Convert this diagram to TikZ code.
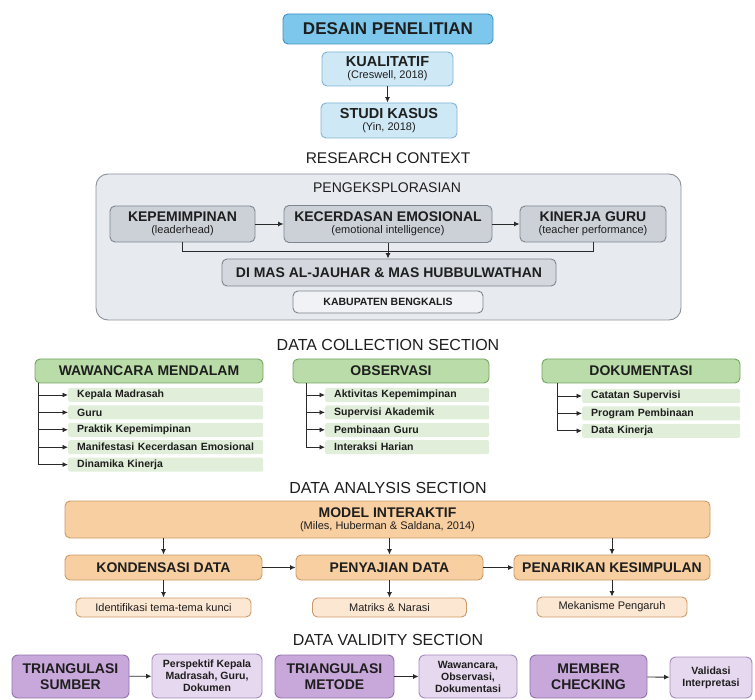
\documentclass[tikz,border=0pt]{standalone}
\usepackage{fontspec}
\setmainfont{Liberation Sans}
\usetikzlibrary{positioning,arrows.meta}

\definecolor{txt}{HTML}{1E1E1E}
\definecolor{arrowc}{HTML}{2A2A2A}
\definecolor{bluedark}{HTML}{7CC7EB}
\definecolor{blueline}{HTML}{3F92C2}
\definecolor{bluelight}{HTML}{CFE8F5}
\definecolor{bluemid}{HTML}{7DB3D6}
\definecolor{ctxfill}{HTML}{E7EAEF}
\definecolor{ctxline}{HTML}{8C939B}
\definecolor{greymid}{HTML}{CCD1D8}
\definecolor{greyline}{HTML}{7E858E}
\definecolor{greydimas}{HTML}{D4D8DE}
\definecolor{greylight}{HTML}{F0F2F5}
\definecolor{greenhead}{HTML}{B9DCA8}
\definecolor{greenline}{HTML}{74A660}
\definecolor{greenitem}{HTML}{E1EFDA}
\definecolor{orangemid}{HTML}{F8CFA1}
\definecolor{orangeline}{HTML}{CD9966}
\definecolor{orangelight}{HTML}{FCE7D3}
\definecolor{purplemid}{HTML}{C8A8DA}
\definecolor{purpleline}{HTML}{9372AC}
\definecolor{purplelight}{HTML}{E6D8EF}
\definecolor{purplepale}{HTML}{A68ABD}

\newcommand\subline[1]{{\fontsize{11}{12}\selectfont\mdseries #1}}

\begin{document}
\begin{tikzpicture}[x=1pt,y=-1pt,
        every node/.style={text=txt},
        box/.style={draw, rounded corners=5pt, line width=0.9pt, align=center, inner sep=0pt,
            font=\bfseries\fontsize{14}{15}\selectfont},
        blueone/.style={box, fill=bluedark, draw=blueline, font=\bfseries\fontsize{17}{18}\selectfont},
        bluetwo/.style={box, fill=bluelight, draw=bluemid, font=\bfseries\fontsize{14.5}{15}\selectfont},
        greyone/.style={box, fill=greymid, draw=greyline},
        greenone/.style={box, fill=greenhead, draw=greenline},
        item/.style={fill=greenitem, rounded corners=2pt, minimum height=14pt, inner sep=0pt, inner xsep=9pt,
            anchor=west, align=left, font=\bfseries\fontsize{10.5}{12}\selectfont},
        orangeone/.style={box, fill=orangemid, draw=orangeline},
        orangetwo/.style={box, fill=orangelight, draw=orangeline, font=\mdseries\fontsize{11}{12}\selectfont},
        purpleone/.style={box, rounded corners=6pt, fill=purplemid, draw=purpleline, font=\bfseries\fontsize{14}{16}\selectfont},
        purpletwo/.style={box, rounded corners=6pt, fill=purplelight, draw=purplepale, font=\bfseries\fontsize{10.5}{12}\selectfont},
        heading/.style={font=\fontsize{16}{18}\selectfont},
        link/.style={->, >={Latex[length=5.5pt,width=5pt]}, line width=0.9pt, draw=arrowc},
        conn/.style={line width=0.9pt, draw=arrowc}
    ]
    \useasboundingbox (0,0) rectangle (755,700);

    % research design
    \node[blueone, minimum width=210pt, minimum height=30pt] (desain) at (388,29) {DESAIN PENELITIAN};
    \node[bluetwo, minimum width=131pt, minimum height=34pt] (kual) at (387.5,69) {KUALITATIF\\[-3pt]\subline{(Creswell, 2018)}};
    \node[bluetwo, minimum width=136pt, minimum height=35pt] (studi) at (389,120.5) {STUDI KASUS\\[-3pt]\subline{(Yin, 2018)}};
    \draw[link] (kual.south) -- (kual.south |- studi.north);

    % research context
    \node[heading, font=\fontsize{15.5}{18}\selectfont] (rc) at (388,158) {RESEARCH CONTEXT};
    \draw[fill=ctxfill, draw=ctxline, line width=0.9pt, rounded corners=12pt] (96,174) rectangle (681,320);
    \node[font=\fontsize{14}{16}\selectfont] (penge) at (387,188) {PENGEKSPLORASIAN};
    \node[greyone, minimum width=145pt, minimum height=36pt] (kep) at (182.5,224) {KEPEMIMPINAN\\[-3pt]\subline{(leaderhead)}};
    \node[greyone, minimum width=208pt, minimum height=37pt] (kec) at (388,224) {KECERDASAN EMOSIONAL\\[-3pt]\subline{(emotional intelligence)}};
    \node[greyone, minimum width=146pt, minimum height=36pt] (kin) at (593,224) {KINERJA GURU\\[-3pt]\subline{(teacher performance)}};
    \node[greyone, fill=greydimas, minimum width=334pt, minimum height=27pt] (dimas) at (389,272.5) {DI MAS AL-JAUHAR \& MAS HUBBULWATHAN};
    \node[greyone, fill=greylight, minimum width=190pt, minimum height=22pt,
        font=\bfseries\fontsize{10.5}{12}\selectfont] (kab) at (388,302) {KABUPATEN BENGKALIS};
    \draw[link] (kep) -- (kec);
    \draw[link] (kec) -- (kin);
    \draw[conn] (kep.south) -- ++(0,9) -| (kin.south);
    \draw[link] (kec.south) -- (kec.south |- dimas.north);

    % data collection
    \node[heading] (dc) at (388,345) {DATA COLLECTION SECTION};
    \node[greenone, minimum width=228pt, minimum height=24pt] (waw) at (149,371) {WAWANCARA MENDALAM};
    \node[greenone, minimum width=196pt, minimum height=24pt] (obs) at (391,371) {OBSERVASI};
    \node[greenone, minimum width=198pt, minimum height=24pt] (dok) at (641,371) {DOKUMENTASI};

    \node[item, text width=177pt] (w1) at (68,395) {Kepala Madrasah};
    \node[item, text width=177pt, below=3pt of w1] (w2) {Guru};
    \node[item, text width=177pt, below=3pt of w2] (w3) {Praktik Kepemimpinan};
    \node[item, text width=177pt, below=3pt of w3] (w4) {Manifestasi Kecerdasan Emosional};
    \node[item, text width=177pt, below=3pt of w4] (w5) {Dinamika Kinerja};
    \draw[link] ([xshift=4pt]waw.south west) |- (w1.west);
    \draw[link] ([xshift=4pt]waw.south west) |- (w2.west);
    \draw[link] ([xshift=4pt]waw.south west) |- (w3.west);
    \draw[link] ([xshift=4pt]waw.south west) |- (w4.west);
    \draw[link] ([xshift=4pt]waw.south west) |- (w5.west);

    \node[item, text width=146pt] (o1) at (325,395) {Aktivitas Kepemimpinan};
    \node[item, text width=146pt, below=3pt of o1] (o2) {Supervisi Akademik};
    \node[item, text width=146pt, below=3pt of o2] (o3) {Pembinaan Guru};
    \node[item, text width=146pt, below=3pt of o3] (o4) {Interaksi Harian};
    \draw[link] ([xshift=14pt]obs.south west) |- (o1.west);
    \draw[link] ([xshift=14pt]obs.south west) |- (o2.west);
    \draw[link] ([xshift=14pt]obs.south west) |- (o3.west);
    \draw[link] ([xshift=14pt]obs.south west) |- (o4.west);

    \node[item, text width=140pt] (d1) at (582,396) {Catatan Supervisi};
    \node[item, text width=140pt, below=3pt of d1] (d2) {Program Pembinaan};
    \node[item, text width=140pt, below=3pt of d2] (d3) {Data Kinerja};
    \draw[link] ([xshift=16pt]dok.south west) |- (d1.west);
    \draw[link] ([xshift=16pt]dok.south west) |- (d2.west);
    \draw[link] ([xshift=16pt]dok.south west) |- (d3.west);

    % data analysis
    \node[heading] (da) at (388,488) {DATA ANALYSIS SECTION};
    \node[orangeone, minimum width=645pt, minimum height=37pt] (model) at (387.5,519.5) {MODEL INTERAKTIF\\[-3pt]\subline{(Miles, Huberman \& Saldana, 2014)}};
    \node[orangeone, minimum width=197pt, minimum height=25pt] (kond) at (163.5,567.5) {KONDENSASI DATA};
    \node[orangeone, minimum width=187pt, minimum height=25pt] (sajian) at (389.5,567.5) {PENYAJIAN DATA};
    \node[orangeone, minimum width=196pt, minimum height=25pt] (tarik) at (612,567.5) {PENARIKAN KESIMPULAN};
    \node[orangetwo, minimum width=175pt, minimum height=19pt] (iden) at (163.5,607.5) {Identifikasi tema-tema kunci};
    \node[orangetwo, minimum width=154pt, minimum height=19pt] (matr) at (389.5,607.5) {Matriks \& Narasi};
    \node[orangetwo, minimum width=150pt, minimum height=20pt] (mek) at (612,607) {Mekanisme Pengaruh};
    \draw[link] (kond.north |- model.south) -- (kond.north);
    \draw[link] (sajian.north |- model.south) -- (sajian.north);
    \draw[link] (tarik.north |- model.south) -- (tarik.north);
    \draw[link] (kond) -- (sajian);
    \draw[link] (sajian) -- (tarik);
    \draw[link] (kond) -- (iden);
    \draw[link] (sajian) -- (matr);
    \draw[link] (tarik) -- (mek);

    % data validity
    \node[heading] (dv) at (388,640) {DATA VALIDITY SECTION};
    \node[purpleone, minimum width=117pt, minimum height=43pt] (tsumber) at (70.5,676.5) {TRIANGULASI\\SUMBER};
    \node[purpletwo, minimum width=110pt, minimum height=44pt] (psumber) at (207,676) {Perspektif Kepala\\Madrasah, Guru,\\Dokumen};
    \node[purpleone, minimum width=119pt, minimum height=43pt] (tmetode) at (334.5,676.5) {TRIANGULASI\\METODE};
    \node[purpletwo, minimum width=98pt, minimum height=43pt] (pmetode) at (468,676.5) {Wawancara,\\Observasi,\\Dokumentasi};
    \node[purpleone, minimum width=117pt, minimum height=43pt] (member) at (588.5,676.5) {MEMBER\\CHECKING};
    \node[purpletwo, minimum width=82pt, minimum height=41pt] (valid) at (711,677.5) {Validasi\\Interpretasi};
    \draw[link] (tsumber) -- (psumber);
    \draw[link] (tmetode) -- (pmetode);
    \draw[link] (member) -- (valid);
\end{tikzpicture}
\end{document}
